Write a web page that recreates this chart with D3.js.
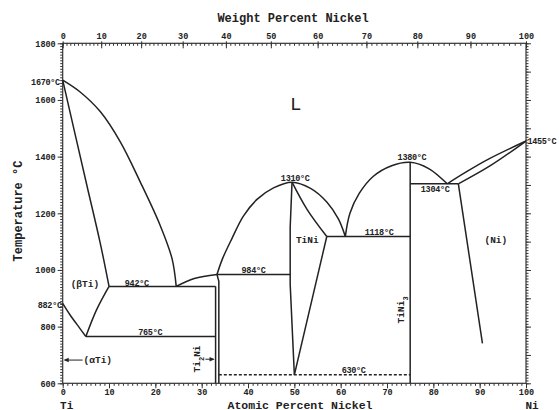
<!DOCTYPE html>
<meta charset="utf-8">
<script src="https://d3js.org/d3.v7.min.js"></script>
<style>
  body { margin: 0; background: #fff; }
  text { font-family: "Liberation Mono", "DejaVu Sans Mono", monospace; fill: #222; }
</style>
<div id="graph"></div>
<script>
  // tick labels
  var atTicks = [0, 10, 20, 30, 40, 50, 60, 70, 80, 90, 100];
  var wtTicks = [0, 10, 20, 30, 40, 50, 60, 70, 80, 90, 100];
  var tempTicks = [600, 800, 1000, 1200, 1400, 1600, 1800];

  // phase boundaries, [atomic % Ni, temperature C]
  var tiLiquidus = [[0, 1670], [3.7, 1629], [8.1, 1559], [12.4, 1453], [16.7, 1312], [21, 1159], [23.6, 1040], [24.5, 942]];
  var betaSolidus = [[0, 1670], [5.2, 1300], [8.1, 1095], [10, 942]];
  var betaTransus = [[0, 882], [1.6, 841], [3.7, 794], [5, 765]];
  var betaSolvus = [[5, 765], [7.3, 859], [10, 942]];
  var ti2NiLiquidus = [[24.5, 942], [28.4, 970], [33.3, 984]];
  var tiNiLiquidus = [[33.3, 984], [34.5, 1040], [36.5, 1110], [39, 1190], [42, 1250], [45.5, 1290], [49.5, 1310],
    [53.5, 1288], [57, 1240], [59.5, 1180], [61, 1118]];
  var tiNiLeft = [[49.5, 1310], [49.1, 1150], [49.1, 950], [50, 630]];
  var tiNiRightLow = [[50, 630], [57, 1118]];
  var tiNiRightHigh = [[49.5, 1310], [52.7, 1215], [57, 1118]];
  var tiNi3Liquidus = [[61, 1118], [62, 1200], [64, 1270], [67, 1330], [71, 1368], [75, 1380], [79, 1358], [83, 1304]];
  var niLiquidus = [[83, 1304], [87, 1345], [92, 1392], [100, 1455]];
  var niSolidus = [[85.4, 1304], [92.3, 1368], [100, 1455]];
  var niSolvus = [[85.4, 1304], [90.6, 741]];
  var ti2NiLeft = [[33, 942], [33, 600]];
  var ti2NiRight = [[33.3, 984], [33.7, 960], [33.7, 600]];
  var tiNi3Line = [[75, 600], [75, 1380]];
  var iso942 = [[10, 942], [33, 942]];
  var iso765 = [[5, 765], [33, 765]];
  var iso984 = [[33.3, 984], [49.1, 984]];
  var iso1118 = [[57, 1118], [75, 1118]];
  var iso1304 = [[75, 1304], [85.4, 1304]];
  var iso630 = [[33.7, 630], [75, 630]];

  // annotations, [text, atomic %, temperature]
  var tempLabels = [["1670°C", -0.6, 1664, "end"], ["882°C", -0.2, 876, "end"], ["1455°C", 100.3, 1455, "start"],
    ["1380°C", 75.4, 1400, "middle"], ["1310°C", 50.2, 1326, "middle"], ["1304°C", 80.4, 1285, "middle"],
    ["1118°C", 68.3, 1135, "middle"], ["984°C", 41.2, 1000, "middle"], ["942°C", 16, 953, "middle"],
    ["765°C", 18.9, 782, "middle"], ["630°C", 62.8, 647, "middle"]];
  var phaseLabels = [["(βTi)", 4.8, 953], ["TiNi", 52.8, 1108], ["(Ni)", 93.5, 1106]];

  var width = 559, height = 410;
  var svg = d3.select("#graph").append("svg")
    .attr("width", width).attr("height", height);

  var x = d3.scaleLinear().domain([0, 100]).range([62.7, 526]);
  var y = d3.scaleLinear().domain([600, 1800]).range([383.3, 43.3]);

  // weight % -> atomic % for the top axis
  function wtToAt(w) {
    var ni = w / 58.69, ti = (100 - w) / 47.87;
    return 100 * ni / (ni + ti);
  }

  var axisFont = 8.5;
  function styleAxis(g) {
    g.select(".domain").remove();
    g.selectAll("line").attr("stroke", "#333").attr("stroke-width", 1);
    g.selectAll("text").attr("font-size", axisFont).attr("font-weight", "bold")
      .style("font-family", "'Liberation Mono', monospace").attr("fill", "#222");
  }

  // bottom axis
  svg.append("g").attr("transform", "translate(0," + y(600) + ")")
    .call(d3.axisBottom(x).tickValues(d3.range(0, 101, 1)).tickFormat("").tickSize(2.5)).call(styleAxis);
  svg.append("g").attr("transform", "translate(0," + y(600) + ")")
    .call(d3.axisBottom(x).tickValues(atTicks).tickFormat(d3.format("d")).tickSize(5).tickPadding(1)).call(styleAxis);

  // top axis (weight percent)
  svg.append("g").attr("transform", "translate(0," + y(1800) + ")")
    .call(d3.axisTop(x).tickValues(d3.range(0, 101, 1).map(wtToAt)).tickFormat("").tickSize(-2.5)).call(styleAxis);
  svg.append("g").attr("transform", "translate(0," + y(1800) + ")")
    .call(d3.axisTop(x).tickValues(wtTicks.map(wtToAt)).tickFormat(function (d, i) { return wtTicks[i]; })
      .tickSizeInner(-5).tickSizeOuter(0).tickPadding(4)).call(styleAxis);
  svg.append("g").attr("transform", "translate(0," + y(1800) + ")")
    .call(d3.axisTop(x).tickValues(wtTicks.map(wtToAt)).tickFormat("").tickSize(2)).call(styleAxis);

  // left axis
  svg.append("g").attr("transform", "translate(" + x(0) + ",0)")
    .call(d3.axisLeft(y).tickValues(d3.range(600, 1801, 10)).tickFormat("").tickSize(2.5)).call(styleAxis);
  svg.append("g").attr("transform", "translate(" + x(0) + ",0)")
    .call(d3.axisLeft(y).tickValues(tempTicks).tickFormat(d3.format("d")).tickSize(5).tickPadding(2)).call(styleAxis);

  // right axis
  svg.append("g").attr("transform", "translate(" + x(100) + ",0)")
    .call(d3.axisRight(y).tickValues(d3.range(600, 1801, 10)).tickFormat("").tickSize(2.5)).call(styleAxis);
  svg.append("g").attr("transform", "translate(" + x(100) + ",0)")
    .call(d3.axisRight(y).tickValues(d3.range(600, 1801, 100)).tickFormat("").tickSize(5)).call(styleAxis);

  // frame
  svg.append("rect")
    .attr("x", x(0)).attr("y", y(1800))
    .attr("width", x(100) - x(0)).attr("height", y(600) - y(1800))
    .attr("fill", "none").attr("stroke", "#333").attr("stroke-width", 1.2);

  var curved = d3.line().x(function (d) { return x(d[0]); }).y(function (d) { return y(d[1]); })
    .curve(d3.curveCatmullRom.alpha(0.5));
  var straight = d3.line().x(function (d) { return x(d[0]); }).y(function (d) { return y(d[1]); });

  var curves = [tiLiquidus, betaSolidus, betaTransus, betaSolvus, ti2NiLiquidus, tiNiLiquidus,
    tiNiRightHigh, tiNi3Liquidus, niLiquidus, niSolidus];
  var lines = [tiNiLeft, tiNiRightLow, niSolvus, ti2NiLeft, ti2NiRight, tiNi3Line,
    iso942, iso765, iso984, iso1118, iso1304];

  svg.append("g").selectAll("path.c").data(curves).enter().append("path")
    .attr("d", curved).attr("fill", "none").attr("stroke", "#222").attr("stroke-width", 1.5);
  svg.append("g").selectAll("path.l").data(lines).enter().append("path")
    .attr("d", straight).attr("fill", "none").attr("stroke", "#222").attr("stroke-width", 1.5);
  svg.append("path").attr("d", straight(iso630)).attr("fill", "none")
    .attr("stroke", "#222").attr("stroke-width", 1.5).attr("stroke-dasharray", "3,2");

  // temperature labels
  svg.append("g").selectAll("text").data(tempLabels).enter().append("text")
    .attr("x", function (d) { return x(d[1]); })
    .attr("y", function (d) { return y(d[2]); })
    .attr("dy", "0.35em")
    .attr("text-anchor", function (d) { return d[3]; })
    .attr("font-size", 8.5).attr("font-weight", "bold").attr("letter-spacing", -0.3)
    .text(function (d) { return d[0]; });

  svg.append("g").selectAll("text").data(phaseLabels).enter().append("text")
    .attr("x", function (d) { return x(d[1]); })
    .attr("y", function (d) { return y(d[2]); })
    .attr("dy", "0.35em")
    .attr("text-anchor", "middle")
    .attr("font-size", 9.5).attr("font-weight", "bold")
    .text(function (d) { return d[0]; });

  svg.append("text").attr("x", x(50.3)).attr("y", y(1588)).attr("dy", "0.35em")
    .attr("text-anchor", "middle").attr("font-size", 19).text("L");

  // (αTi) with arrow
  svg.append("text").attr("x", x(4.5)).attr("y", y(682)).attr("dy", "0.35em")
    .attr("font-size", 9.5).attr("font-weight", "bold").text("(αTi)");
  svg.append("line").attr("x1", x(4.3)).attr("x2", x(0) + 2)
    .attr("y1", y(682)).attr("y2", y(682)).attr("stroke", "#222").attr("stroke-width", 1);
  svg.append("path")
    .attr("d", "M" + (x(0) + 1) + "," + y(682) + "l5,-2.2v4.4z").attr("fill", "#222");

  // Ti2Ni with arrow
  var t2 = svg.append("text")
    .attr("transform", "translate(" + (x(29) + 3) + "," + y(686) + ") rotate(-90)")
    .attr("text-anchor", "middle").attr("font-size", 9.5).attr("font-weight", "bold");
  t2.append("tspan").text("Ti");
  t2.append("tspan").attr("baseline-shift", "sub").attr("font-size", 7).text("2");
  t2.append("tspan").text("Ni");
  svg.append("line").attr("x1", x(30.8)).attr("x2", x(33) - 2)
    .attr("y1", y(685)).attr("y2", y(685)).attr("stroke", "#222").attr("stroke-width", 1);
  svg.append("path")
    .attr("d", "M" + (x(33) - 1) + "," + y(685) + "l-5,-2.2v4.4z").attr("fill", "#222");

  // TiNi3
  var t3 = svg.append("text")
    .attr("transform", "translate(" + (x(73) + 3) + "," + y(859) + ") rotate(-90)")
    .attr("text-anchor", "middle").attr("font-size", 9.5).attr("font-weight", "bold");
  t3.append("tspan").text("TiNi");
  t3.append("tspan").attr("baseline-shift", "sub").attr("font-size", 7).text("3");

  // axis titles
  svg.append("text").attr("x", 293).attr("y", 22).attr("text-anchor", "middle")
    .attr("font-size", 12).attr("font-weight", "bold").text("Weight Percent Nickel");
  svg.append("text").attr("x", 300).attr("y", 408.5).attr("text-anchor", "middle")
    .attr("font-size", 11.5).attr("font-weight", "bold").text("Atomic Percent Nickel");
  svg.append("text").attr("transform", "translate(22,211) rotate(-90)").attr("text-anchor", "middle")
    .attr("font-size", 12).attr("font-weight", "bold").text("Temperature °C");
  svg.append("text").attr("x", x(0) + 4).attr("y", 408.5).attr("text-anchor", "middle")
    .attr("font-size", 11).attr("font-weight", "bold").text("Ti");
  svg.append("text").attr("x", x(100) + 6).attr("y", 408.5).attr("text-anchor", "middle")
    .attr("font-size", 11).attr("font-weight", "bold").text("Ni");
</script>
